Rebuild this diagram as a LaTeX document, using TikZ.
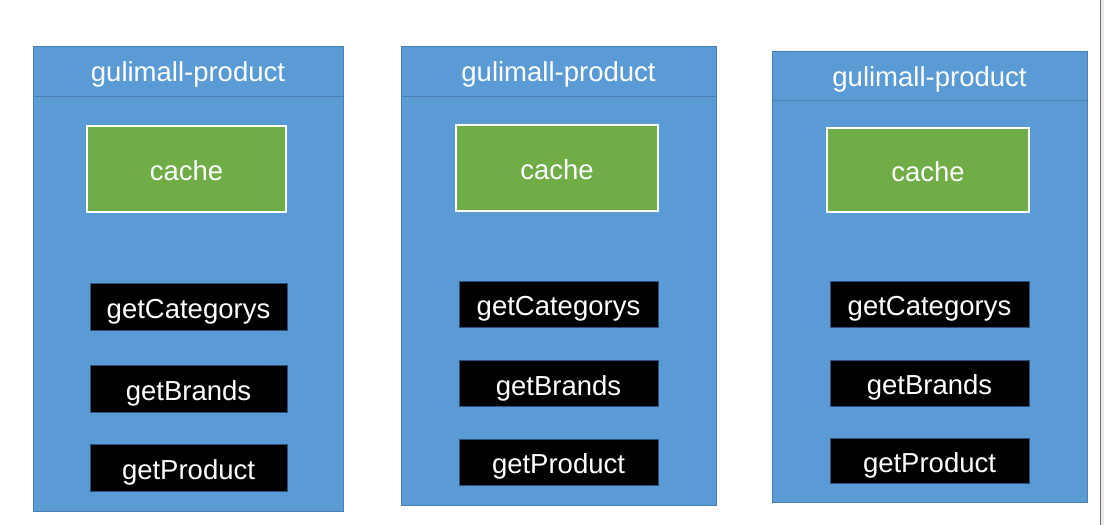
\documentclass[tikz,border=0pt]{standalone}
\usepackage{fontspec}
\setmainfont{Liberation Sans}
\definecolor{svcblue}{HTML}{5B9BD5}
\definecolor{svcedge}{HTML}{4A7DB0}
\definecolor{cachegreen}{HTML}{70AD47}
\definecolor{methedge}{HTML}{2F4F7F}
\tikzset{
  svcbox/.style={rectangle, fill=svcblue, draw=svcedge, line width=1pt, inner sep=0pt},
  svchead/.style={rectangle, draw=svcedge, line width=1pt, inner sep=0pt, text=white, font=\fontsize{27.5}{30}\selectfont, text height=21.4pt, text depth=0pt},
  cachebox/.style={rectangle, fill=cachegreen, draw=white, line width=1.5pt, inner sep=0pt, text=white, font=\fontsize{27.5}{30}\selectfont, text height=23pt, text depth=0pt},
  methbox/.style={rectangle, fill=black, draw=methedge, line width=0.6pt, inner sep=0pt, text=white, font=\fontsize{27.5}{30}\selectfont, text height=23.6pt, text depth=0pt}
}
\begin{document}
\begin{tikzpicture}[x=1pt,y=-1pt]
\useasboundingbox (0,0) rectangle (1104,525);
\fill[white] (0,0) rectangle (1104,525);
\fill[black!8] (1100,0) rectangle (1104,525);
\draw[black!55, line width=1.2pt] (1100.5,0) -- (1100.5,525);

% service 1
\node[svcbox, minimum width=310pt, minimum height=465pt] (box1) at (188,278.5) {};
\node[svchead, minimum width=310pt, minimum height=50pt] (title1) at (188,71) {gulimall-product};
\node[cachebox, minimum width=199pt, minimum height=86pt] (cache1) at (186.5,169) {cache};
\node[methbox, minimum width=197pt, minimum height=47pt] (cat1) at (188.5,306.5) {getCategorys};
\node[methbox, minimum width=197pt, minimum height=47pt] (brand1) at (188.5,388.5) {getBrands};
\node[methbox, minimum width=197pt, minimum height=47pt] (prod1) at (188.5,467.5) {getProduct};

% service 2
\node[svcbox, minimum width=315pt, minimum height=459pt] (box2) at (558.5,275.5) {};
\node[svchead, minimum width=315pt, minimum height=50pt] (title2) at (558.5,71) {gulimall-product};
\node[cachebox, minimum width=202pt, minimum height=86pt] (cache2) at (557,168) {cache};
\node[methbox, minimum width=199pt, minimum height=46pt] (cat2) at (558.5,304) {getCategorys};
\node[methbox, minimum width=199pt, minimum height=46pt] (brand2) at (558.5,383.5) {getBrands};
\node[methbox, minimum width=199pt, minimum height=46pt] (prod2) at (558.5,462) {getProduct};

% service 3
\node[svcbox, minimum width=315pt, minimum height=451pt] (box3) at (929.5,276.5) {};
\node[svchead, minimum width=315pt, minimum height=49pt] (title3) at (929.5,75.5) {gulimall-product};
\node[cachebox, minimum width=202pt, minimum height=84pt] (cache3) at (928,170) {cache};
\node[methbox, minimum width=199pt, minimum height=46pt] (cat3) at (929.5,304) {getCategorys};
\node[methbox, minimum width=199pt, minimum height=46pt] (brand3) at (929.5,383) {getBrands};
\node[methbox, minimum width=199pt, minimum height=45pt] (prod3) at (929.5,460.5) {getProduct};
\end{tikzpicture}
\end{document}
